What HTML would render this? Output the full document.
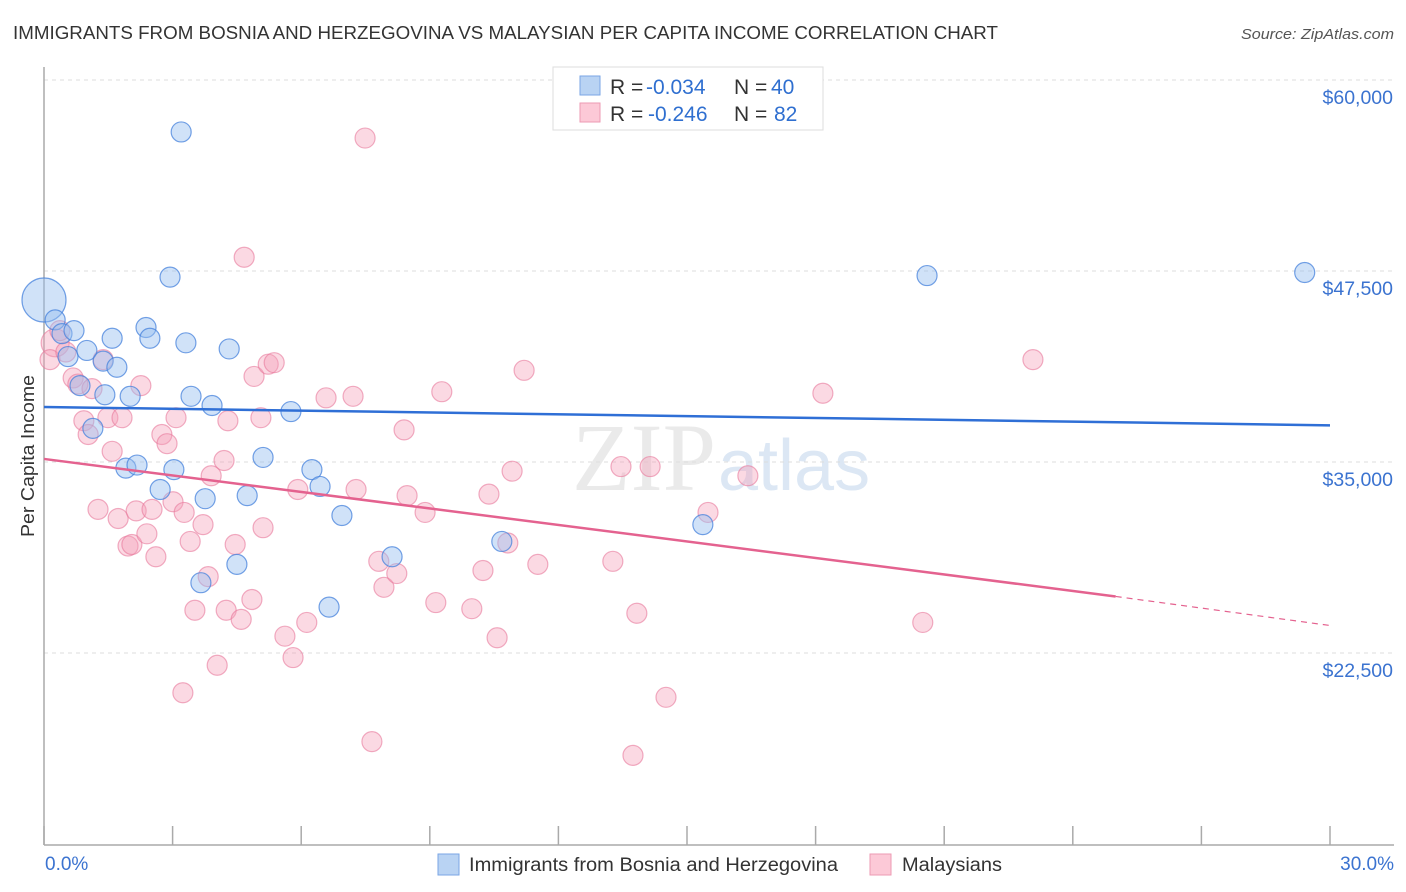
<!DOCTYPE html>
<html><head><meta charset="utf-8"><style>
body{margin:0;background:#fff;font-family:"Liberation Sans",sans-serif}
svg{display:block}
</style></head><body>
<svg id="c" width="1406" height="892" xmlns="http://www.w3.org/2000/svg">
<text x="13" y="39" font-size="18" fill="#333" textLength="985" lengthAdjust="spacingAndGlyphs">IMMIGRANTS FROM BOSNIA AND HERZEGOVINA VS MALAYSIAN PER CAPITA INCOME CORRELATION CHART</text>
<text x="1241" y="39" font-size="15" fill="#555" font-style="italic" textLength="153" lengthAdjust="spacingAndGlyphs">Source: ZipAtlas.com</text>
<text x="716" y="490" font-size="96" fill="#ddd" text-anchor="end" font-family="Liberation Serif,serif" opacity="0.6">ZIP</text>
<text x="718" y="490" font-size="72" fill="#c5d8ee" opacity="0.6">atlas</text>
<g id="grid"></g>
<g id="axes"></g>
<g id="pts"></g>
<g id="trend"></g>
<text transform="translate(34,456) rotate(-90)" font-size="18" fill="#333" text-anchor="middle" textLength="162" lengthAdjust="spacingAndGlyphs">Per Capita Income</text>
<g>
<rect x="553" y="67" width="270" height="63" fill="#fff" stroke="#ddd"/>
<rect x="580" y="76" width="20" height="19" fill="#b9d3f3" stroke="#7aa6e4"/>
<rect x="580" y="103" width="20" height="19" fill="#fcc9d7" stroke="#ec9ab3"/>
<text x="610" y="94" font-size="21" fill="#333">R = <tspan x="646" fill="#2f6fd0">-0.034</tspan><tspan x="734">N = </tspan><tspan x="771" fill="#2f6fd0">40</tspan></text>
<text x="610" y="121" font-size="21" fill="#333">R = <tspan x="648" fill="#2f6fd0">-0.246</tspan><tspan x="734">N = </tspan><tspan x="774" fill="#2f6fd0">82</tspan></text>
</g>
<text x="45" y="870" font-size="19" fill="#3b73d0">0.0%</text>
<text x="1394" y="870" font-size="19" fill="#3b73d0" text-anchor="end">30.0%</text>
<g>
<rect x="438" y="854" width="21" height="21" fill="#b9d3f3" stroke="#7aa6e4"/>
<text x="469" y="871" font-size="19" fill="#333" textLength="369" lengthAdjust="spacingAndGlyphs">Immigrants from Bosnia and Herzegovina</text>
<rect x="870" y="854" width="21" height="21" fill="#fcc9d7" stroke="#ec9ab3"/>
<text x="902" y="871" font-size="19" fill="#333" textLength="100" lengthAdjust="spacingAndGlyphs">Malaysians</text>
</g>
</svg>
<script>
const yTicks=[60000,47500,35000,22500];
const yTickLabels=["$60,000","$47,500","$35,000","$22,500"];
const xTicks=[0,3,6,9,12,15,18,21,24,27,30];
const blueX=[0,0.26,0.42,0.70,0.56,1.00,0.84,1.14,1.38,1.59,1.70,1.42,2.01,1.91,2.17,2.38,2.47,2.94,3.20,3.31,3.43,3.92,4.32,3.03,2.71,3.76,3.66,4.50,4.74,5.11,5.76,6.25,6.44,6.95,6.65,8.12,10.68,15.37,20.60,29.41];
const blueY=[45.6,44.3,43.4,43.6,41.9,42.3,40.0,37.2,41.6,43.1,41.2,39.4,39.3,34.6,34.8,43.8,43.1,47.1,56.6,42.8,39.3,38.7,42.4,34.5,33.2,32.6,27.1,28.3,32.8,35.3,38.3,34.5,33.4,31.5,25.5,28.8,29.8,30.9,47.2,47.4];
const pinkX=[0.26,0.14,0.37,0.51,0.68,0.79,0.93,1.03,1.12,1.38,1.49,1.59,1.73,1.26,1.82,1.96,2.05,2.15,2.26,2.40,2.52,2.61,2.75,2.87,3.01,3.08,3.27,3.41,3.52,3.24,3.71,3.83,3.90,4.04,4.20,4.25,4.29,4.46,4.60,4.85,4.67,4.90,5.06,5.11,5.23,5.37,5.62,5.81,5.92,6.13,6.58,7.21,7.28,7.49,7.65,7.81,7.93,8.23,8.40,8.47,8.89,9.14,9.28,9.98,10.24,10.38,10.57,10.92,10.82,11.20,11.52,13.27,13.46,13.74,13.83,14.14,14.51,15.49,16.42,18.17,20.50,23.07];
const pinkY=[42.8,41.7,43.6,42.2,40.5,40.1,37.7,36.8,39.8,41.7,37.9,35.7,31.3,31.9,37.9,29.5,29.6,31.8,40.0,30.3,31.9,28.8,36.8,36.2,32.4,37.9,31.7,29.8,25.3,19.9,30.9,27.5,34.1,21.7,35.1,25.3,37.7,29.6,24.7,26.0,48.4,40.6,37.9,30.7,41.4,41.5,23.6,22.2,33.2,24.5,39.2,39.3,33.2,56.2,16.7,28.5,26.8,27.7,37.1,32.8,31.7,25.8,39.6,25.4,27.9,32.9,23.5,34.4,29.7,41.0,28.3,28.5,34.7,15.8,25.1,34.7,19.6,31.7,34.1,39.5,24.5,41.7];
const blueTrend=[38.6,37.4];
const pinkTrend=[35.2,26.2,24.3];
const pinkTrendX=[0,25,30];
const NS="http://www.w3.org/2000/svg";
function sx(p){return 44+p/30*1286;}
function sy(v){return 80+(60-v)/12.5*191;}
function mk(t,a,p){const e=document.createElementNS(NS,t);for(const k in a)e.setAttribute(k,a[k]);p.appendChild(e);return e;}
const grid=document.getElementById('grid'),axes=document.getElementById('axes'),pts=document.getElementById('pts'),trend=document.getElementById('trend');
yTicks.forEach((t,i)=>{const y=sy(t/1000);
const l=mk('line',{x1:44,x2:1394,y1:y,y2:y,stroke:'#ddd','stroke-dasharray':'4,4'},grid);


const tx=mk('text',{x:1393,y:y+24,'font-size':19.5,fill:'#3b73d0','text-anchor':'end'},grid);tx.textContent=yTickLabels[i];

});
const ya=mk('line',{x1:44,x2:44,y1:67,y2:845,stroke:'#aaa','stroke-width':1.5},axes);


const xa=mk('line',{x1:44,x2:1394,y1:845,y2:845,stroke:'#aaa','stroke-width':1.5},axes);


xTicks.forEach(t=>{const x=sx(t);const l=mk('line',{x1:x,x2:x,y1:826,y2:845,stroke:'#aaa','stroke-width':1.5},axes);

});
pinkX.forEach((x,i)=>{const r=i===0?14:10;const c=mk('circle',{cx:sx(x),cy:sy(pinkY[i]),r:r,fill:'rgba(246,160,186,0.4)',stroke:'rgba(232,120,155,0.6)','stroke-width':1.2},pts);

});
blueX.forEach((x,i)=>{const r=i===0?22:10;const c=mk('circle',{cx:sx(x),cy:sy(blueY[i]),r:r,fill:'rgba(150,190,240,0.45)',stroke:'rgba(70,130,220,0.75)','stroke-width':1.2},pts);

});
const bt=mk('line',{x1:sx(0),y1:sy(blueTrend[0]),x2:sx(30),y2:sy(blueTrend[1]),stroke:'#2f6fd6','stroke-width':2.5},trend);


const pt=mk('line',{x1:sx(pinkTrendX[0]),y1:sy(pinkTrend[0]),x2:sx(pinkTrendX[1]),y2:sy(pinkTrend[1]),stroke:'#e4628f','stroke-width':2.5},trend);


const pd=mk('line',{x1:sx(pinkTrendX[1]),y1:sy(pinkTrend[1]),x2:sx(pinkTrendX[2]),y2:sy(pinkTrend[2]),stroke:'#e4628f','stroke-width':1.2,'stroke-dasharray':'6,5'},trend);


</script>
</body></html>
